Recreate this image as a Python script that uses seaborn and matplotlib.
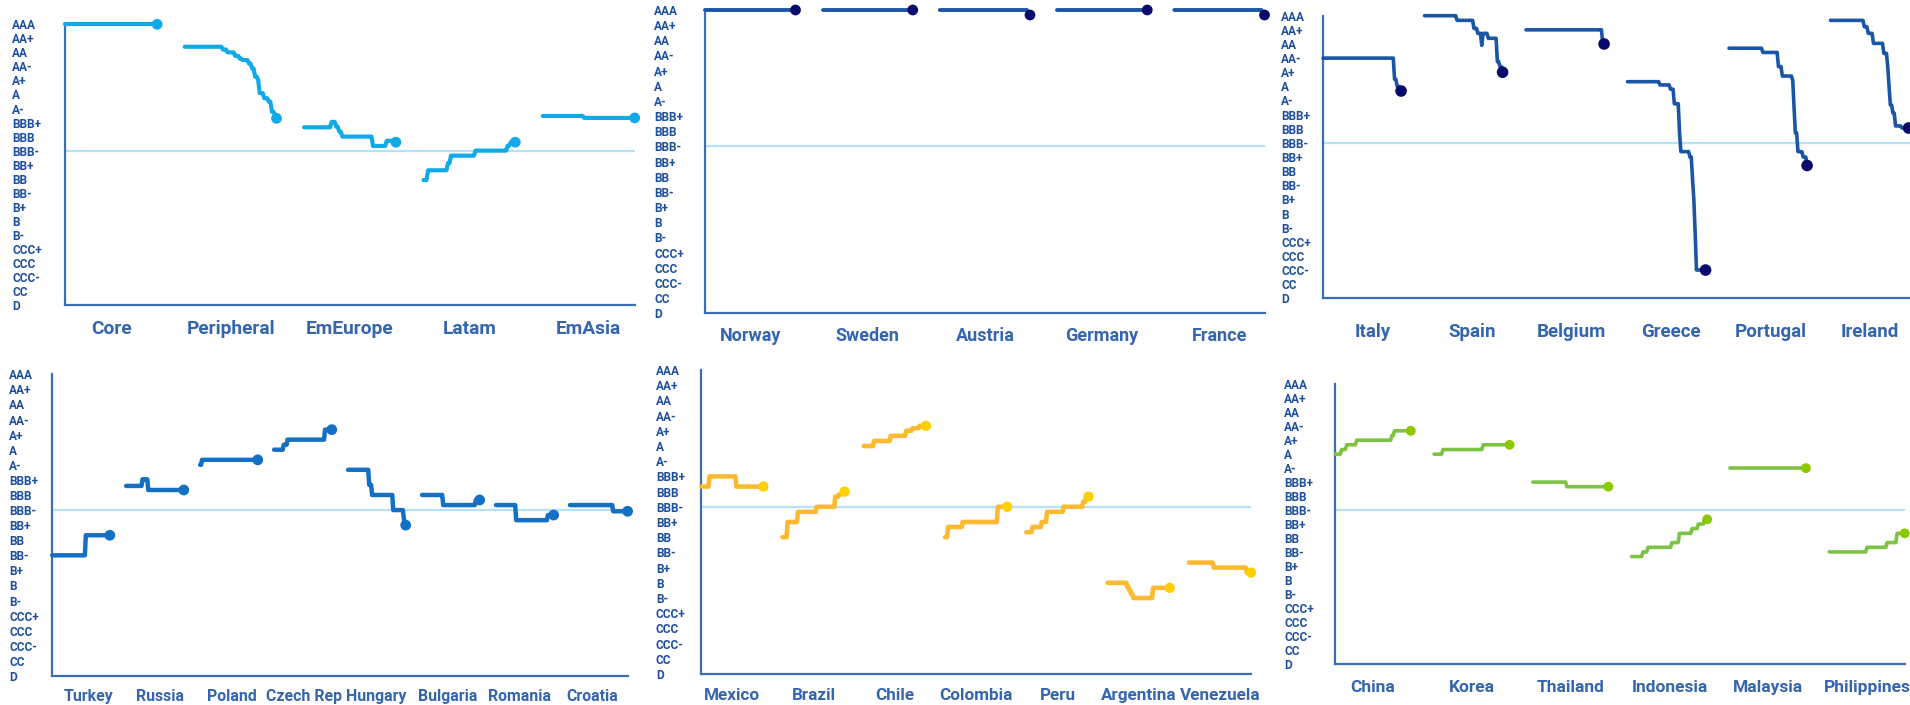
import numpy as np
import pandas as pd
import seaborn as sns
import matplotlib.pyplot as plt

RATINGS = ['AAA', 'AA+', 'AA', 'AA-', 'A+', 'A', 'A-', 'BBB+', 'BBB', 'BBB-',
           'BB+', 'BB', 'BB-', 'B+', 'B', 'B-', 'CCC+', 'CCC', 'CCC-', 'CC', 'D']
# notch scale: AAA = 21 ... D = 1
NOTCH = {r: 21 - i for i, r in enumerate(RATINGS)}
INV_GRADE = NOTCH['BBB-']
MONTHS = 60  # months of rating history per country

# each series: months where the rating changes (t) and the new average notch (r)
groups_names = ['Core', 'Peripheral', 'EmEurope', 'Latam', 'EmAsia']
groups_t = [[0],
            [0, 25, 28, 33, 36, 38, 42, 44, 46, 48, 49, 52, 55, 57, 59, 60],
            [0, 18, 21, 23, 25, 45, 54, 60],
            [0, 3, 16, 18, 34, 55, 57],
            [0, 27]]
groups_r = [[21],
            [19.4, 19.2, 19.0, 18.75, 18.55, 18.45, 18.2, 17.85, 17.27, 17.05, 16.1, 15.73, 15.48, 14.77, 14.54, 14.3],
            [13.66, 14.05, 13.7, 13.35, 13.0, 12.33, 12.7, 12.6],
            [9.9, 10.6, 11.1, 11.64, 12.0, 12.35, 12.6],
            [14.47, 14.33]]

core_names = ['Norway', 'Sweden', 'Austria', 'Germany', 'France']
core_t = [[0], [0], [0, 59], [0], [0, 59]]
core_r = [[21], [21], [21, 20.67], [21], [21, 20.67]]

periph_names = ['Italy', 'Spain', 'Belgium', 'Greece', 'Portugal', 'Ireland']
periph_t = [[0, 55, 57, 59],
            [0, 25, 38, 41, 44, 45, 49, 56, 58, 60],
            [0, 59],
            [0, 25, 33, 36, 40, 41, 48, 50, 51, 52, 53],
            [0, 26, 38, 41, 49, 50, 51, 53, 57, 60],
            [0, 26, 29, 33, 41, 44, 45, 46, 48, 50, 55]]
periph_r = [[18, 16.5, 16.0, 15.67],
            [21, 20.67, 20.1, 19.75, 18.9, 19.75, 19.4, 17.75, 17.4, 17.0],
            [20, 19],
            [16.33, 16.1, 15.8, 14.77, 12.7, 11.38, 11.0, 9.4, 7.96, 5.6, 3.0],
            [18.7, 18.4, 17.4, 16.73, 16.4, 14.5, 12.7, 11.38, 11.0, 10.4],
            [20.67, 20.22, 19.75, 19.04, 18.33, 17.4, 16.0, 14.68, 14.1, 13.2, 13.05]]

emeu_names = ['Turkey', 'Russia', 'Poland', 'Czech Rep', 'Hungary', 'Bulgaria', 'Romania', 'Croatia']
emeu_t = [[0, 35], [0, 17, 23], [0, 2], [0, 10, 14, 53], [0, 22, 25, 47, 58, 59],
          [0, 22, 56], [0, 21, 54], [0, 45]]
emeu_r = [[9, 10.33], [13.6, 14.04, 13.33], [15.0, 15.33], [16, 16.33, 16.67, 17.33],
          [14.67, 13.67, 13.0, 12.0, 11.5, 11.0], [13.0, 12.33, 12.67], [12.33, 11.33, 11.67],
          [12.33, 11.92]]

latam_names = ['Mexico', 'Brazil', 'Chile', 'Colombia', 'Peru', 'Argentina', 'Venezuela']
latam_t = [[0, 8, 34], [0, 5, 15, 33, 51, 55, 58], [0, 10, 26, 41, 47, 54],
           [0, 3, 17, 51], [0, 6, 15, 20, 36, 55, 58], [0, 19, 21, 23, 25, 44], [0, 24, 56]]
latam_r = [[13.33, 14.0, 13.33], [10, 11, 11.67, 12, 12.67, 12.83, 13.0],
           [16.0, 16.33, 16.67, 17.0, 17.17, 17.33], [10.0, 10.67, 11.0, 12.0],
           [10.33, 10.67, 11.0, 11.67, 12.0, 12.33, 12.67], [7, 6.75, 6.5, 6.25, 6, 6.67],
           [8.33, 8.0, 7.67]]

asia_names = ['China', 'Korea', 'Thailand', 'Indonesia', 'Malaysia', 'Philippines']
asia_t = [[0, 5, 9, 17, 45, 47], [0, 7, 39], [0, 27], [0, 9, 13, 32, 38, 48, 53, 58], [0], [0, 30, 46, 54]]
asia_r = [[16, 16.33, 16.67, 17.0, 17.33, 17.67], [16, 16.33, 16.67], [14, 13.67],
          [8.67, 9, 9.33, 9.67, 10.33, 10.67, 11, 11.33], [15], [9, 9.33, 9.67, 10.33]]

W, H = 1910, 705

# box = (left, right, top, bottom) in pixels of the figure
PANELS = [
    dict(names=groups_names, t=groups_t, r=groups_r, color='#12A9E8', dot='#12A9E8', lw=3.0, s=60,
         box=(65.3, 634.7, 24.3, 305), gap=18, xmax=372, step=74.4, at='series', tdir='in',
         ylab=12, xpad=10.5, xfs=13.8),
    dict(names=core_names, t=core_t, r=core_r, color='#1B56A6', dot='#0A0A6B', lw=2.8, s=60,
         box=(705.3, 1264.5, 10, 313.3), gap=18, xmax=372, step=74.6, at='series', tdir='in',
         ylab=654, xpad=10, xfs=13.0),
    dict(names=periph_names, t=periph_t, r=periph_r, color='#1B56A6', dot='#0A0A6B', lw=2.6, s=70,
         box=(1323, 1919.5, 15.7, 298.3), gap=18, xmax=458.4, step=76.4, at='ticks', tdir='in',
         ylab=1281, xpad=17.5, xfs=13.5),
    dict(names=emeu_names, t=emeu_t, r=emeu_r, color='#1470C4', dot='#1470C4', lw=3.2, s=60,
         box=(52.2, 627.8, 374.3, 676), gap=17, xmax=599, step=74.9, at='ticks', tdir='out',
         ylab=9, xpad=9.5, xfs=11.4),
    dict(names=latam_names, t=latam_t, r=latam_r, color='#FDBA30', dot='#FFD000', lw=3.3, s=55,
         box=(701.2, 1251, 370, 674), gap=18.5, xmax=531, step=77, at='series', tdir='out',
         ylab=656, xpad=10, xfs=12.3),
    dict(names=asia_names, t=asia_t, r=asia_r, color='#7DC242', dot='#8CC800', lw=2.6, s=50,
         box=(1335.3, 1904.7, 384.3, 663.7), gap=18.5, xmax=452.5, step=76.4, at='series', tdir='out',
         ylab=1284, xpad=11.5, xfs=12.5),
]

sns.set_style('white')
plt.rcParams['font.family'] = ['Roboto', 'DejaVu Sans']

AXIS_BLUE = '#3C6EB4'
YTXT = '#1E4F9F'
XTXT = '#3465AE'


def series_frame(p):
    period = MONTHS + p['gap']
    months = np.arange(MONTHS + 1)
    rows = []
    for i, (name, tt, rr) in enumerate(zip(p['names'], p['t'], p['r'])):
        idx = np.searchsorted(tt, months, side='right') - 1
        rows.append(pd.DataFrame({'country': name,
                                  'x': i * period + months,
                                  'notch': np.asarray(rr, float)[idx]}))
    return pd.concat(rows, ignore_index=True)


def draw_panel(fig, p):
    l, r, t, b = p['box']
    ax = fig.add_axes([l / W, 1 - b / H, (r - l) / W, (b - t) / H])
    df = series_frame(p)

    ax.axhline(INV_GRADE, color='#B5E2F6', lw=1.6, zorder=1)
    sns.lineplot(data=df, x='x', y='notch', units='country', estimator=None, sort=False,
                 color=p['color'], lw=p['lw'], ax=ax, legend=False, zorder=3, clip_on=False)
    last = df.groupby('country', sort=False).tail(1)
    sns.scatterplot(data=last, x='x', y='notch', color=p['dot'], s=p['s'], edgecolor='none',
                    ax=ax, zorder=4, clip_on=False, legend=False)

    ax.set_xlim(0, p['xmax'])
    ax.set_ylim(1, 21)
    ax.set_xlabel('')
    ax.set_ylabel('')

    n = len(p['names'])
    bounds = np.arange(0, p['xmax'] + 1, p['step'])
    ax.set_xticks(bounds, labels=[])
    if p['at'] == 'series':
        centers = np.arange(n) * (MONTHS + p['gap']) + MONTHS / 2
    else:
        centers = (np.arange(n) + 0.5) * p['step']
    ax.set_xticks(centers, labels=p['names'], minor=True)
    ax.tick_params(axis='x', which='major', direction=p['tdir'], length=4, width=1.3, color=AXIS_BLUE)
    ax.tick_params(axis='x', which='minor', length=0, pad=p['xpad'], labelsize=p['xfs'], labelcolor=XTXT)
    for lbl in ax.get_xticklabels(minor=True):
        lbl.set_fontweight('bold')

    ax.set_yticks(range(21, 0, -1), labels=RATINGS)
    ypad = (l - p['ylab']) * 0.72 - 3
    ax.tick_params(axis='y', direction='out', length=3, width=1.3, color=AXIS_BLUE,
                   pad=ypad, labelsize=8.6, labelcolor=YTXT)
    for lbl in ax.get_yticklabels():
        lbl.set_ha('left')
        lbl.set_fontweight('bold')

    for side in ['top', 'right']:
        ax.spines[side].set_visible(False)
    for side in ['left', 'bottom']:
        ax.spines[side].set_color(AXIS_BLUE)
        ax.spines[side].set_linewidth(1.6)
    ax.set_facecolor('none')
    return ax


fig = plt.figure(figsize=(W / 100, H / 100), dpi=100)
for p in PANELS:
    draw_panel(fig, p)
fig.savefig('out.png', dpi=100, facecolor='white')
